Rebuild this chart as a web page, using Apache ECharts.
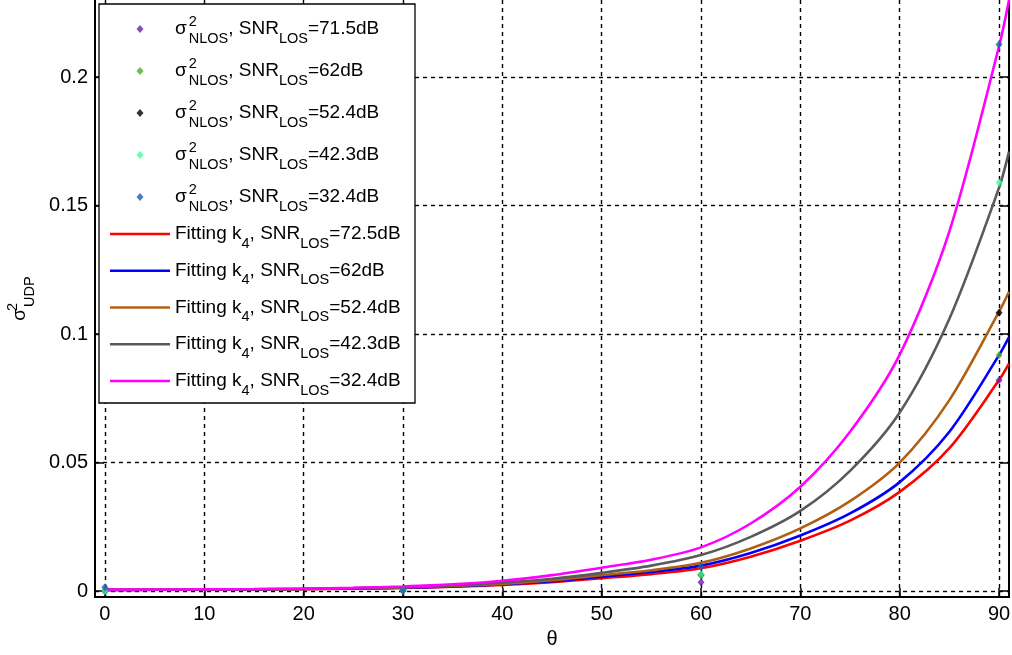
<!DOCTYPE html>
<html><head><meta charset="utf-8">
<script src="https://cdn.jsdelivr.net/npm/echarts@6/dist/echarts.min.js"></script>
<style>html,body{margin:0;padding:0;background:#fff}#c{width:1012px;height:655px}</style>
</head><body><div id="c"></div>
<script>
// ---- data ----
const xs = [0,5,10,15,20,25,30,35,40,45,50,55,60,65,70,75,80,85,90,91];
const fit725 = [0.0004,0.0005,0.0005,0.0006,0.0007,0.0009,0.0012,0.0017,0.0024,0.0035,0.0050,0.0066,0.0089,0.0134,0.0196,0.0274,0.0386,0.0556,0.0821,0.0885];
const fit62  = [0.0004,0.0005,0.0005,0.0006,0.0008,0.0010,0.0013,0.0018,0.0026,0.0038,0.0056,0.0074,0.0099,0.0148,0.0216,0.0302,0.0424,0.0620,0.0918,0.0988];
const fit524 = [0.0004,0.0005,0.0006,0.0007,0.0008,0.0011,0.0014,0.0020,0.0028,0.0042,0.0062,0.0081,0.0110,0.0166,0.0244,0.0350,0.0500,0.0743,0.1087,0.1165];
const fit423 = [0.0005,0.0005,0.0006,0.0007,0.0009,0.0012,0.0016,0.0023,0.0033,0.0048,0.0071,0.0099,0.0140,0.0211,0.0312,0.0468,0.0695,0.1060,0.1570,0.1710];
const fit324 = [0.0006,0.0006,0.0007,0.0008,0.0010,0.0013,0.0018,0.0026,0.0040,0.0062,0.0091,0.0122,0.0170,0.0263,0.0406,0.0620,0.0920,0.1400,0.2120,0.2300];
const obsX = [0,30,60,90];
const obs715 = [0.0000,0.0002,0.0034,0.0820];
const obs62  = [0.0000,0.0002,0.0062,0.0918];
const obs524 = [0.0000,0.0002,0.0064,0.1083];
const obs423 = [0.0000,0.0002,0.0065,0.1590];
const obs324 = [0.0015,0.0001,0.0095,0.2127];
const obsLabels = ['71.5','62','52.4','42.3','32.4'];
const fitLabels = ['72.5','62','52.4','42.3','32.4'];
const xTicks = [0,10,20,30,40,50,60,70,80,90];
const yTicks = [0,0.05,0.1,0.15,0.2];

// ---- styles ----
const FF = 'Liberation Sans, Arial, sans-serif';
const obsColors = ['#6a1fb0','#4caf22','#000000','#44ffa0','#1560b0'];
const fitColors = ['#ff0000','#0000ff','#b05f12','#5a5a5a','#ff00ff'];
const obsSets = [obs715, obs62, obs524, obs423, obs324];
const fitSets = [fit725, fit62, fit524, fit423, fit324];

const series = [];
obsSets.forEach((arr, i) => {
  series.push({
    name: 'obs|' + obsLabels[i], type: 'scatter', symbol: 'diamond', symbolSize: [7, 8],
    itemStyle: { color: obsColors[i] },
    data: obsX.map((x, j) => [x, arr[j]]), z: 2
  });
});
fitSets.forEach((arr, i) => {
  series.push({
    name: 'fit|' + fitLabels[i], type: 'line', showSymbol: false, symbol: 'none',
    smooth: 0.3,
    lineStyle: { color: fitColors[i], width: 2.6 }, itemStyle: { color: fitColors[i] },
    data: xs.map((x, j) => [x, arr[j]]), z: 2
  });
});

const tok = (o) => Object.assign({ fontFamily: FF, color: '#000' }, o);
const legendText = {
  fontFamily: FF, fontSize: 19, color: '#000',
  rich: {
    s: tok({ fontSize: 19, padding: [0, 2, 0, 0] }),
    m: tok({ fontSize: 19 }),
    sup: tok({ fontSize: 14.5, width: 0, padding: [0, 0, 15, 0] }),
    sub: tok({ fontSize: 14.5, padding: [19, 0, 0, 0] })
  }
};
const fmt = function (name) {
  const p = name.split('|');
  if (p[0] === 'obs') return '{s|σ}{sup|2}{sub|NLOS}{m|, SNR}{sub|LOS}{m|=' + p[1] + 'dB}';
  return '{m|Fitting k}{sub|4}{m|, SNR}{sub|LOS}{m|=' + p[1] + 'dB}';
};
// diamond centred in a 60-wide icon box (moveTo points widen the box)
const diamondIcon = 'path://M0,-4M60,4M30,-4L33.5,0L30,4L26.5,0Z';

const chart = echarts.init(document.getElementById('c'), null, { renderer: 'canvas' });
chart.setOption({
  animation: false,
  backgroundColor: '#fff',
  grid: { left: 95, right: 3, top: 0, bottom: 58, containLabel: false, outerBoundsMode: 'none' },
  graphic: [{
    type: 'rect', z: 3, silent: true,
    shape: { x: 99, y: 4, width: 316, height: 399 },
    style: { fill: '#fff', stroke: '#000', lineWidth: 1.3 }
  }],
  legend: [{
    orient: 'vertical', left: 110, top: 14, itemGap: 10, itemWidth: 60, itemHeight: 8,
    padding: 0, z: 5, symbolKeepAspect: true, selectedMode: false,
    data: obsLabels.map(l => ({ name: 'obs|' + l, icon: diamondIcon })),
    formatter: fmt, textStyle: legendText
  }, {
    orient: 'vertical', left: 110, top: 224.5, itemGap: 10.25, itemWidth: 60, itemHeight: 2.6,
    padding: 0, z: 5, selectedMode: false,
    data: fitLabels.map(l => ({ name: 'fit|' + l, icon: 'rect' })),
    formatter: fmt, textStyle: legendText
  }],
  xAxis: {
    type: 'value', min: -1, max: 91, position: 'bottom',
    name: 'θ', nameLocation: 'middle', nameGap: 32,
    nameTextStyle: { fontFamily: FF, fontSize: 20, color: '#000' },
    axisLine: { show: true, onZero: false, lineStyle: { color: '#000', width: 2 } },
    axisTick: { show: true, inside: true, length: 9, customValues: xTicks, lineStyle: { color: '#000', width: 1.5 } },
    axisLabel: { customValues: xTicks, margin: 7, color: '#000', fontSize: 20, fontFamily: FF },
    splitLine: { show: true, lineStyle: { type: [4, 4], color: '#000', width: 1.4 } }
  },
  yAxis: [{
    type: 'value', min: -0.0023, max: 0.23, position: 'left',
    name: '{s|σ}{sup|2}{sub|UDP}', nameLocation: 'middle', nameGap: 58, nameRotate: 90,
    nameTextStyle: {
      fontFamily: FF, fontSize: 19, color: '#000',
      rich: {
        s: tok({ fontSize: 19, padding: [0, 2, 0, 0] }),
        sup: tok({ fontSize: 14.5, width: 0, padding: [0, 0, 15, 0] }),
        sub: tok({ fontSize: 14.5, padding: [19, 0, 0, 0] })
      }
    },
    axisLine: { show: true, onZero: false, lineStyle: { color: '#000', width: 2 } },
    axisTick: { show: true, inside: true, length: 9, customValues: yTicks, lineStyle: { color: '#000', width: 1.5 } },
    axisLabel: { customValues: yTicks, margin: 7, color: '#000', fontSize: 20, fontFamily: FF },
    splitLine: { show: true, lineStyle: { type: [4, 4], color: '#000', width: 1.4 } }
  }, {
    type: 'value', min: -0.0023, max: 0.23, position: 'right',
    axisLine: { show: true, onZero: false, lineStyle: { color: '#000', width: 2 } },
    axisTick: { show: true, inside: true, length: 9, customValues: yTicks, lineStyle: { color: '#000', width: 1.5 } },
    axisLabel: { show: false },
    splitLine: { show: false }
  }],
  series: series
});
</script>
</body></html>
